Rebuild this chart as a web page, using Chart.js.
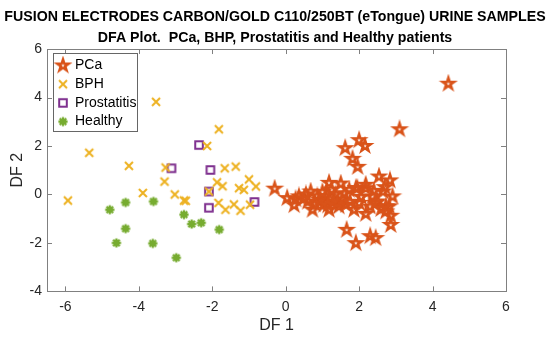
<!DOCTYPE html>
<html>
<head>
<meta charset="utf-8">
<script src="https://cdn.jsdelivr.net/npm/chart.js@4.4.1/dist/chart.umd.min.js"></script>
<style>
  html, body { margin: 0; padding: 0; background: #fff; }
</style>
</head>
<body>
<canvas id="dfa" width="550" height="344"></canvas>
<script>
const titleLines = [
  'FUSION ELECTRODES CARBON/GOLD C110/250BT (eTongue) URINE SAMPLES',
  'DFA Plot.  PCa, BHP, Prostatitis and Healthy patients'
];
const groupNames = ['PCa', 'BPH', 'Prostatitis', 'Healthy'];
const xTicks = [-6, -4, -2, 0, 2, 4, 6];
const yTicks = [-4, -2, 0, 2, 4, 6];

const pcaX = [4.43, 3.10, 1.62, 2.00, 2.16, 1.82, 1.96, 2.54, 2.84, -0.30, 0.04, 0.27, 0.36, 0.23, 0.50,
  0.68, 0.73, 1.18, 1.50, 1.18, 0.95, 1.09, 1.36, 1.54, 1.45, 1.73, 1.95, 2.18, 1.86, 2.18, 2.00, 2.36,
  2.50, 2.65, 2.91, 2.82, 2.73, 2.86, 2.86, 1.66, 1.91, 2.30, 2.45, 1.64, 1.32, 1.04, 0.86, 0.55, 0.91,
  2.45, 2.73, 2.18, 1.91, 1.20, 1.40, 1.00, 1.60, 1.25, 0.80, 2.30, 2.60, 1.75, 2.05, 1.15, 0.60, 2.70, 2.40];
const pcaY = [4.57, 2.69, 1.91, 2.24, 2.00, 1.47, 1.14, 0.74, 0.58, 0.24, -0.15, -0.20, -0.08, -0.44, -0.15,
  0.12, -0.63, 0.48, 0.45, -0.63, -0.29, -0.08, 0.00, -0.22, -0.49, 0.19, 0.26, 0.40, -0.63, -0.80, -0.35, -0.08,
  -0.29, 0.12, -0.08, -0.49, -0.70, -0.88, -1.26, -1.46, -2.01, -1.72, -1.80, -0.42, -0.29, -0.42, -0.08, 0.00, -0.22,
  -0.35, -0.49, 0.26, 0.26, -0.20, -0.35, 0.10, 0.05, 0.20, -0.40, -0.50, -0.60, -0.30, -0.10, -0.45, -0.30, 0.30, 0.15];

const bphX = [-5.93, -5.35, -4.27, -3.53, -3.89, -3.30, -3.27, -3.02, -2.77, -2.72, -2.14, -1.82, -2.09,
  -1.87, -1.72, -1.66, -1.36, -1.83, -1.64, -1.41, -1.27, -1.14, -1.00, -0.81, -1.23, -0.97];
const bphY = [-0.25, 1.72, 1.18, 3.82, 0.06, 0.53, 1.11, 0.00, -0.25, -0.26, 2.00, 2.69, 0.12,
  0.50, 0.34, 1.08, 1.15, -0.35, -0.63, -0.41, 0.26, 0.19, 0.62, 0.33, -0.67, -0.42];

const prosX = [-2.36, -3.11, -2.05, -2.09, -2.09, -0.85];
const prosY = [2.04, 1.08, 1.01, 0.12, -0.55, -0.31];

const healthyX = [-4.79, -4.36, -3.60, -4.36, -4.61, -3.62, -2.98, -2.77, -2.56, -2.30, -1.81];
const healthyY = [-0.63, -0.33, -0.29, -1.41, -2.00, -2.02, -2.61, -0.83, -1.22, -1.17, -1.45];

const colors = ['#D95319', '#EDB120', '#7E2F8E', '#77AC30'];
const fontFamily = '"Liberation Sans", Arial, sans-serif';

function makeMarker(kind, color) {
  const c = document.createElement('canvas');
  c.width = 20; c.height = 20;
  const g = c.getContext('2d');
  g.translate(10, 10);
  g.strokeStyle = color;
  g.lineWidth = 2;
  g.beginPath();
  if (kind === 'pentagram') {
    for (let i = 0; i < 10; i++) {
      const r = i % 2 === 0 ? 6 : 2.3;
      const a = -Math.PI / 2 + i * Math.PI / 5;
      if (i === 0) g.moveTo(r * Math.cos(a), r * Math.sin(a));
      else g.lineTo(r * Math.cos(a), r * Math.sin(a));
    }
    g.closePath();
    g.lineWidth = 2.5;
  } else if (kind === 'x') {
    g.moveTo(-4, -4); g.lineTo(4, 4);
    g.moveTo(-4, 4); g.lineTo(4, -4);
  } else if (kind === 'square') {
    g.rect(-3.8, -3.8, 7.6, 7.6);
  } else {
    for (let i = 0; i < 4; i++) {
      const a = i * Math.PI / 4;
      g.moveTo(-4.6 * Math.cos(a), -4.6 * Math.sin(a));
      g.lineTo(4.6 * Math.cos(a), 4.6 * Math.sin(a));
    }
    g.lineWidth = 2.3;
  }
  g.stroke();
  return c;
}

const markers = [
  makeMarker('pentagram', colors[0]),
  makeMarker('x', colors[1]),
  makeMarker('square', colors[2]),
  makeMarker('asterisk', colors[3])
];

function toPoints(xs, ys) {
  return xs.map((x, i) => ({ x: x, y: ys[i] }));
}

const seriesX = [pcaX, bphX, prosX, healthyX];
const seriesY = [pcaY, bphY, prosY, healthyY];

// axes box, inward ticks and the legend, MATLAB style
const matlabAxes = {
  id: 'matlabAxes',
  afterLayout(chart) {
    // title is centred on the whole figure, not on the padded area
    const t = chart.titleBlock;
    if (t) { t.left = 0; t.right = chart.width; t.width = chart.width; }
  },
  beforeDatasetsDraw(chart) {
    const { ctx, chartArea: a, scales } = chart;
    ctx.save();
    ctx.strokeStyle = '#808080';
    ctx.lineWidth = 1;
    ctx.strokeRect(Math.round(a.left) + 0.5, Math.round(a.top) + 0.5,
      Math.round(a.right - a.left), Math.round(a.bottom - a.top));
    ctx.beginPath();
    xTicks.forEach(v => {
      const px = Math.round(scales.x.getPixelForValue(v)) + 0.5;
      ctx.moveTo(px, a.bottom); ctx.lineTo(px, a.bottom - 5);
      ctx.moveTo(px, a.top); ctx.lineTo(px, a.top + 5);
    });
    yTicks.forEach(v => {
      const py = Math.round(scales.y.getPixelForValue(v)) + 0.5;
      ctx.moveTo(a.left, py); ctx.lineTo(a.left + 5, py);
      ctx.moveTo(a.right, py); ctx.lineTo(a.right - 5, py);
    });
    ctx.stroke();
    ctx.restore();
  },
  afterDatasetsDraw(chart) {
    const { ctx, chartArea: a } = chart;
    const bx = Math.round(a.left) + 6, by = Math.round(a.top) + 4;
    const bw = 84, bh = 78;
    ctx.save();
    ctx.fillStyle = '#fff';
    ctx.fillRect(bx, by, bw, bh);
    ctx.strokeStyle = '#666';
    ctx.lineWidth = 1;
    ctx.strokeRect(bx + 0.5, by + 0.5, bw, bh);
    ctx.font = '14px ' + fontFamily;
    ctx.fillStyle = '#000';
    ctx.textBaseline = 'middle';
    groupNames.forEach((name, i) => {
      const cy = by + 12.5 + i * 18.7;
      ctx.drawImage(markers[i], bx, cy - 10);
      ctx.fillText(name, bx + 22, cy);
    });
    ctx.restore();
  }
};

new Chart(document.getElementById('dfa'), {
  type: 'scatter',
  data: {
    datasets: groupNames.map((name, i) => ({
      label: name,
      data: toPoints(seriesX[i], seriesY[i]),
      pointStyle: markers[i],
      pointRadius: 6,
      pointHoverRadius: 6
    }))
  },
  options: {
    responsive: false,
    animation: false,
    devicePixelRatio: 1,
    layout: { padding: { left: 0, right: 44, top: 0, bottom: 0 } },
    plugins: {
      legend: { display: false },
      tooltip: { enabled: false },
      title: {
        display: true,
        text: titleLines,
        color: '#000',
        font: { family: fontFamily, size: 14.2, weight: 'bold', lineHeight: 1.48 },
        padding: { top: 7, bottom: 0 }
      }
    },
    scales: {
      x: {
        type: 'linear',
        min: -6.5,
        max: 6,
        afterBuildTicks: s => { s.ticks = xTicks.map(v => ({ value: v })); },
        afterFit: s => { s.height = 52.6; },
        grid: { display: false, drawTicks: false },
        border: { display: false },
        ticks: { color: '#262626', padding: 7, font: { family: fontFamily, size: 14 } },
        title: {
          display: true, text: 'DF 1', color: '#262626',
          font: { family: fontFamily, size: 16 }, padding: { top: 0, bottom: 9 }
        }
      },
      y: {
        type: 'linear',
        min: -4,
        max: 6,
        afterBuildTicks: s => { s.ticks = yTicks.map(v => ({ value: v })); },
        afterFit: s => { s.width = 47; },
        grid: { display: false, drawTicks: false },
        border: { display: false },
        ticks: { color: '#262626', padding: 5, font: { family: fontFamily, size: 14 } },
        title: {
          display: true, text: 'DF 2', color: '#262626',
          font: { family: fontFamily, size: 16 }, padding: { top: 8, bottom: 0 }
        }
      }
    }
  },
  plugins: [matlabAxes]
});
</script>
</body>
</html>
